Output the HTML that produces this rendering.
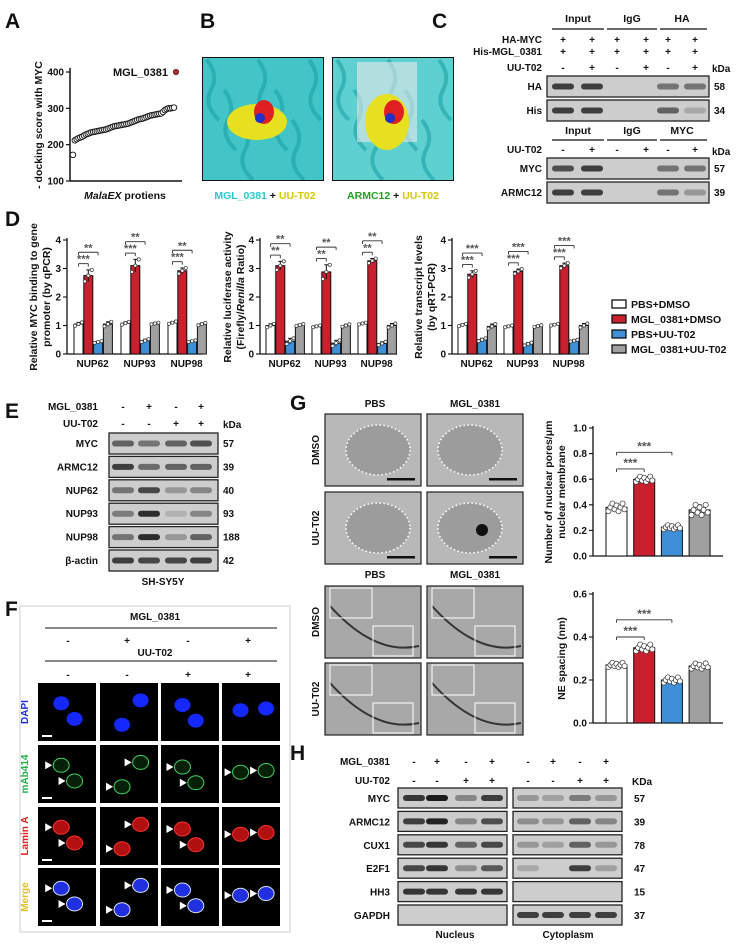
<!DOCTYPE html>
<html><head><meta charset="utf-8"><style>
html,body{margin:0;padding:0;background:#fff;}
svg{display:block;font-family:"Liberation Sans",Arial,sans-serif;}
</style></head><body>
<svg id="fig" width="738" height="946" viewBox="0 0 738 946" xmlns="http://www.w3.org/2000/svg">
<defs><clipPath id="clipB1"><rect x="202" y="57" width="122" height="124"/></clipPath><clipPath id="clipB2"><rect x="332" y="57" width="122" height="124"/></clipPath></defs>
</svg>
<script>
// ---------- DATA ----------
const dockScores=[172,212,215,218,220,222,225,228,230,232,234,235,236,237,238,239,240,241,242,244,246,248,250,251,252,253,254,255,256,257,258,260,262,264,266,268,270,271,272,274,276,278,280,281,282,283,284,285,286,290,295,298,300,300,301,302];
const dockTop=400;
const dockTicks=[100,200,300,400];
const genes=["NUP62","NUP93","NUP98"];
const groupNames=["PBS+DMSO","MGL_0381+DMSO","PBS+UU-T02","MGL_0381+UU-T02"];
const chipVals=[[1.05,2.75,0.42,1.05],[1.08,3.1,0.47,1.07],[1.1,2.92,0.45,1.05]];
const chipErr=[[0.06,0.2,0.03,0.08],[0.05,0.22,0.05,0.03],[0.04,0.1,0.03,0.04]];
const chipSig=[["***","**"],["***","**"],["***","**"]];
const lucVals=[[1.0,3.1,0.45,1.02],[0.97,2.88,0.38,1.0],[1.07,3.27,0.37,1.0]];
const lucErr=[[0.06,0.15,0.1,0.03],[0.03,0.25,0.1,0.04],[0.03,0.08,0.06,0.07]];
const lucSig=[["**","**"],["**","**"],["**","**"]];
const qVals=[[1.02,2.8,0.5,0.97],[0.97,2.9,0.35,0.98],[1.03,3.1,0.47,1.0]];
const qErr=[[0.04,0.12,0.05,0.08],[0.03,0.08,0.05,0.03],[0.03,0.09,0.03,0.07]];
const qSig=[["***","***"],["***","***"],["***","***"]];
const dTicks=[0,1,2,3,4];
const poreVals=[0.38,0.6,0.225,0.36];
const poreErr=[0.03,0.02,0.015,0.04];
const poreTicks=[0,0.2,0.4,0.6,0.8,1.0];
const neVals=[0.27,0.35,0.2,0.265];
const neErr=[0.01,0.015,0.012,0.012];
const neTicks=[0,0.2,0.4,0.6];
const cRows1=["HA","His"],cBands1=[[0.8,0.8,0,0,0.5,0.5],[0.8,0.8,0,0,0.6,0.2]],cKda1=["58","34"];
const cRows2=["MYC","ARMC12"],cBands2=[[0.7,0.8,0,0,0.5,0.5],[0.8,0.8,0,0,0.5,0.3]],cKda2=["57","39"];
const eRows=["MYC","ARMC12","NUP62","NUP93","NUP98","β-actin"];
const eBands=[[0.6,0.5,0.6,0.7],[0.8,0.55,0.6,0.6],[0.5,0.75,0.3,0.4],[0.45,0.9,0.15,0.4],[0.5,0.9,0.3,0.6],[0.8,0.75,0.75,0.8]];
const eKda=["57","39","40","93","188","42"];
const hRows=["MYC","ARMC12","CUX1","E2F1","HH3","GAPDH"];
const hNuc=[[0.85,1,0.4,0.8],[0.8,0.95,0.4,0.7],[0.75,0.85,0.6,0.75],[0.75,0.85,0.35,0.65],[0.85,0.85,0.85,0.85],[0,0,0,0]];
const hCyt=[[0.3,0.25,0.45,0.3],[0.35,0.3,0.6,0.4],[0.3,0.25,0.6,0.3],[0.2,0,0.8,0.25],[0,0,0,0],[0.8,0.8,0.8,0.8]];
const hKda=["57","39","78","47","15","37"];
const colors=["#ffffff","#c8202e","#3e8fd6","#a0a0a0"];

// ---------- HELPERS ----------
const NS="http://www.w3.org/2000/svg";
const svg=document.getElementById('fig');
function el(tag,attrs,parent){const e=document.createElementNS(NS,tag);for(const k in attrs)e.setAttribute(k,attrs[k]);(parent||svg).appendChild(e);return e;}
function nm(e,name){


return e;}
function txt(x,y,s,o,name,parent){o=o||{};const a={x:x,y:y,'font-size':o.size||10,'font-weight':o.w||'bold','text-anchor':o.a||'start',fill:o.fill||'#111'};
if(o.rot!==undefined)a.transform='rotate('+o.rot+' '+x+' '+y+')';if(o.style)a['font-style']=o.style;
const t=el('text',a,parent);t.textContent=s;nm(t,name||'label');return t;}
function line(x1,y1,x2,y2,w,c,name,parent){const l=el('line',{x1:x1,y1:y1,x2:x2,y2:y2,stroke:c||'#111','stroke-width':w||1},parent);nm(l,name||'line');return l;}
function g(name){const e=el('g',{});nm(e,name);return e;}

// ---------- PANEL LETTERS ----------
[["A",5,28],["B",200,28],["C",432,28],["D",5,226],["E",5,418],["F",5,616],["G",290,410],["H",290,760]].forEach(p=>txt(p[1],p[2],p[0],{size:21},'panel-letter-'+p[0].toLowerCase()));

// ---------- PANEL A ----------
(function(){const G=g('docking-score-chart');
const x0=70,x1=182,yA=v=>181-(v-100)*(109/300);
line(x0,68,x0,181,1.5,'#111','y-axis',G);line(x0,181,x1,181,1.5,'#111','x-axis',G);
dockTicks.forEach(t=>{line(x0-4,yA(t),x0,yA(t),1.2,'#111','y-tick',G);txt(x0-6,yA(t)+3.5,String(t),{size:10,a:'end'},'y-tick-label',G);});
const xs=i=>73+i*(101/(dockScores.length-1));
dockScores.forEach((v,i)=>{const c=el('circle',{cx:xs(i),cy:yA(v),r:2.8,fill:'#fff',stroke:'#111','stroke-width':0.9},G);nm(c,'protein-point');});
const r=el('circle',{cx:176,cy:yA(dockTop),r:2.8,fill:'#b52a2a',stroke:'#333','stroke-width':0.6},G);nm(r,'mgl-0381-point');
txt(168,76,'MGL_0381',{size:11,a:'end'},'mgl-0381-label',G);
txt(42,125,'- docking score with MYC',{size:10.5,a:'middle',rot:-90},'y-axis-title',G);
const t=txt(125,199,'',{size:10.5,a:'middle'},'x-axis-title',G);
const s1=el('tspan',{'font-style':'italic'},t);s1.textContent='MalaEX';const s2=el('tspan',{},t);s2.textContent=' protiens';
})();

// ---------- PANEL B ----------
(function(){
[[202,'mgl-0381-structure','clipB1'],[332,'armc12-structure','clipB2']].forEach((b,k)=>{
const G=el('g',{'clip-path':'url(#'+b[2]+')'});nm(G,b[1]);
const x=b[0];const r=el('rect',{x:x,y:57,width:122,height:124,fill:k?'#5fd0d0':'#43c4c6'},G);nm(r,b[1]+'-bg');
for(let i=0;i<7;i++){const p=el('path',{d:'M'+(x+5+i*17)+' '+(60+(i%3)*30)+' q 12 15 4 30 t 8 30',stroke:'#1aa4a8','stroke-width':4,fill:'none',opacity:0.6},G);nm(p,'helix');}
if(k){const w=el('rect',{x:x+25,y:62,width:60,height:80,fill:'#e8e8e8',opacity:0.6},G);nm(w,'surface');}
const y1=el('ellipse',{cx:x+55,cy:122,rx:k?22:30,ry:k?28:18,fill:'#e6e020'},G);nm(y1,'ligand-yellow');
const r1=el('ellipse',{cx:x+62,cy:112,rx:10,ry:12,fill:'#e02020'},G);nm(r1,'ligand-red');
const b1=el('ellipse',{cx:x+58,cy:118,rx:5,ry:5,fill:'#2030c8'},G);nm(b1,'ligand-blue');
const f=el('rect',{x:x,y:57,width:122,height:124,fill:'none',stroke:'#111','stroke-width':2},G);nm(f,b[1]+'-frame');});
const G=g('docking-captions');
let t=txt(265,199,'',{size:10.5,a:'middle'},'mgl-0381-ut02-caption',G);
let a=el('tspan',{fill:'#2cc8d0'},t);a.textContent='MGL_0381';a=el('tspan',{fill:'#111'},t);a.textContent=' + ';a=el('tspan',{fill:'#d8c800'},t);a.textContent='UU-T02';
t=txt(393,199,'',{size:10.5,a:'middle'},'armc12-ut02-caption',G);
a=el('tspan',{fill:'#22a022'},t);a.textContent='ARMC12';a=el('tspan',{fill:'#111'},t);a.textContent=' + ';a=el('tspan',{fill:'#d8c800'},t);a.textContent='UU-T02';
})();

// ---------- BLOT HELPER ----------
function blotAt(G,xs,y,w,h,bands,name){
const r=el('rect',{x:xs.x,y:y,width:w,height:h,fill:'#cdcdcd',stroke:'#222','stroke-width':1.3},G);nm(r,name+'-blot');
bands.forEach((v,i)=>{if(v<=0)return;const b=el('rect',{x:xs.lanes[i]-11,y:y+h/2-3,width:22,height:6,rx:3,fill:'#111',opacity:Math.min(1,v*0.95)},G);nm(b,name+'-band');});}

// ---------- PANEL C ----------
(function(){const G=g('coip-blots');const lanes=[563,592,617,646,668,695];
[['Input',578,552,604],['IgG',632,607,657],['HA',682,660,707]].forEach(h=>{txt(h[1],22,h[0],{size:10.5,a:'middle'},'header-'+h[0].toLowerCase(),G);line(h[2],29,h[3],29,1.2,'#111','header-line',G);});
const sg=[['HA-MYC',40,['+','+','+','+','+','+']],['His-MGL_0381',52,['+','+','+','+','+','+']],['UU-T02',68,['-','+','-','+','-','+']]];
sg.forEach(s=>{txt(542,s[1]+3,s[0],{size:10,a:'end'},'row-label',G);s[2].forEach((c,i)=>txt(lanes[i],s[1]+3,c,{size:10,a:'middle'},'sign',G));});
txt(712,72,'kDa',{size:10},'kda-label',G);
cRows1.forEach((r,i)=>{const y=76+i*24;txt(542,y+14,r,{size:10,a:'end'},'row-label',G);blotAt(G,{x:547,lanes:lanes},y,162,21,cBands1[i],'c-'+r.toLowerCase());txt(714,y+14,cKda1[i],{size:10},'kda-value',G);});
[['Input',578,552,604],['IgG',632,607,657],['MYC',682,660,707]].forEach(h=>{txt(h[1],134,h[0],{size:10.5,a:'middle'},'header-'+h[0].toLowerCase(),G);line(h[2],140,h[3],140,1.2,'#111','header-line',G);});
txt(542,153,'UU-T02',{size:10,a:'end'},'row-label',G);['-','+','-','+','-','+'].forEach((c,i)=>txt(lanes[i],153,c,{size:10,a:'middle'},'sign',G));
txt(712,155,'kDa',{size:10},'kda-label',G);
cRows2.forEach((r,i)=>{const y=158+i*24;txt(542,y+14,r,{size:10,a:'end'},'row-label',G);blotAt(G,{x:547,lanes:lanes},y,162,21,cBands2[i],'c2-'+r.toLowerCase());txt(714,y+14,cKda2[i],{size:10},'kda-value',G);});
})();

// ---------- BAR CHART ----------
function barChart(o){const G=g(o.name);
const yS=v=>o.y0-(v/o.ymax)*(o.y0-o.yTop);
line(o.x0,o.yTop-2,o.x0,o.y0,1.3,'#111','y-axis',G);line(o.x0,o.y0,o.x1,o.y0,1.3,'#111','x-axis',G);
o.ticks.forEach(t=>{line(o.x0-4,yS(t),o.x0,yS(t),1.1,'#111','y-tick',G);txt(o.x0-6,yS(t)+3.5,o.tickFmt?o.tickFmt(t):String(t),{size:o.fs||10,a:'end'},'y-tick-label',G);});
o.groups.forEach((vals,gi)=>{const gx=o.x0+o.off+gi*o.gstep;
vals.forEach((v,j)=>{const bx=gx+j*o.bstep;const r=el('rect',{x:bx,y:yS(v),width:o.bw,height:o.y0-yS(v),fill:colors[j],stroke:'#111','stroke-width':1},G);nm(r,'bar-'+(o.labels?o.labels[gi].toLowerCase()+'-':'')+'group'+(j+1));
const e=o.errs[gi][j];line(bx+o.bw/2,yS(v-e),bx+o.bw/2,yS(v+e),1,'#111','error-bar',G);line(bx+o.bw/2-2,yS(v+e),bx+o.bw/2+2,yS(v+e),1,'#111','error-cap',G);
const nd=o.ndots||3;for(let d=0;d<nd;d++){const dx=(d-(nd-1)/2)*(o.bw*0.7/Math.max(1,nd-1))*1.1;const dy=((d*7)%5-2)*e*0.5;const c=el('circle',{cx:bx+o.bw/2+dx,cy:yS(v+dy),r:o.dr||1.6,fill:'#fff',stroke:'#333','stroke-width':0.7},G);nm(c,'data-point');}});
if(o.labels)txt(gx+o.bstep*2-1,o.y0+13,o.labels[gi],{size:10,a:'middle'},'x-tick-label',G);
if(o.sig){const top=vals[1]+o.errs[gi][1];const l1=yS(top+0.22),l2=yS(top+0.62);
const xw=gx+o.bw/2,xr=gx+o.bstep+o.bw/2,xb=gx+2*o.bstep+o.bw/2;
line(xw,l1,xr,l1,0.9,'#333','sig-bracket',G);line(xw,l1,xw,l1+3,0.9,'#333','sig-tick',G);line(xr,l1,xr,l1+3,0.9,'#333','sig-tick',G);
txt((xw+xr)/2,l1-1,o.sig[gi][0],{size:11,a:'middle',fill:'#555'},'sig-stars',G);
line(xw,l2,xb,l2,0.9,'#333','sig-bracket',G);line(xw,l2,xw,l2+3,0.9,'#333','sig-tick',G);line(xb,l2,xb,l2+3,0.9,'#333','sig-tick',G);
txt((xw+xb)/2,l2-1,o.sig[gi][1],{size:11,a:'middle',fill:'#555'},'sig-stars',G);}});
if(o.gsig){o.gsig.forEach(s=>{const yy=yS(s.v);const xa=o.x0+o.off+o.bw/2,xb2=o.x0+o.off+s.to*o.bstep+o.bw/2;line(xa,yy,xb2,yy,0.9,'#333','sig-bracket',G);line(xa,yy,xa,yy+3,0.9,'#333','sig-tick',G);line(xb2,yy,xb2,yy+3,0.9,'#333','sig-tick',G);txt((xa+xb2)/2,yy-2,'***',{size:12,a:'middle',fill:'#555'},'sig-stars',G);});}
o.title.forEach((t,i)=>{const tt=txt(o.tx+i*13,(o.y0+o.yTop)/2,'',{size:10.5,a:'middle',rot:-90},'y-axis-title',G);t.forEach(p=>{const s=el('tspan',p[1]?{'font-style':'italic'}:{},tt);s.textContent=p[0];});});
return G;}

barChart({name:'chip-qpcr-chart',x0:67,x1:203,y0:354,yTop:240,ymax:4,ticks:dTicks,groups:chipVals,errs:chipErr,sig:chipSig,labels:genes,off:7,gstep:47,bstep:9.8,bw:9,tx:37,title:[[['Relative MYC binding to gene']],[['promoter (by qPCR)']]]});
barChart({name:'luciferase-chart',x0:260,x1:397,y0:354,yTop:240,ymax:4,ticks:dTicks,groups:lucVals,errs:lucErr,sig:lucSig,labels:genes,off:6,gstep:46,bstep:9.8,bw:9,tx:231,title:[[['Relative luciferase activity']],[['(Firefly/'],['Renilla',1],[' Ratio)']]]});
barChart({name:'qrtpcr-chart',x0:452,x1:580,y0:354,yTop:240,ymax:4,ticks:dTicks,groups:qVals,errs:qErr,sig:qSig,labels:genes,off:6,gstep:46,bstep:9.8,bw:9,tx:422,title:[[['Relative transcript levels']],[['(by qRT-PCR)']]]});
(function(){const G=g('legend');groupNames.forEach((n,i)=>{const y=304+i*15;const r=el('rect',{x:612,y:y-4,width:14,height:8,fill:colors[i],stroke:'#111','stroke-width':1.3},G);nm(r,'legend-swatch');txt(631,y+4,n,{size:10.5},'legend-entry',G);});})();

barChart({name:'nuclear-pores-chart',x0:593,x1:723,y0:556,yTop:428,ymax:1.0,ticks:poreTicks,tickFmt:t=>t.toFixed(1),groups:[poreVals],errs:[poreErr],off:13,gstep:0,bstep:27.7,bw:21,ndots:9,dr:2.6,gsig:[{v:0.81,to:2},{v:0.68,to:1}],tx:552,title:[[['Number of nuclear pores/μm']],[['nuclear membrane']]]});
barChart({name:'ne-spacing-chart',x0:593,x1:723,y0:723,yTop:594,ymax:0.6,ticks:neTicks,tickFmt:t=>t.toFixed(1),groups:[neVals],errs:[neErr],off:13,gstep:0,bstep:27.7,bw:21,ndots:9,dr:2.6,gsig:[{v:0.48,to:2},{v:0.40,to:1}],tx:565,title:[[['NE spacing (nm)']]]});

// ---------- PANEL E ----------
(function(){const G=g('western-blot-e');const lanes=[123,149,176,201];
[['MGL_0381',407,['-','+','-','+']],['UU-T02',424,['-','-','+','+']]].forEach(s=>{txt(98,s[1]+3,s[0],{size:10,a:'end'},'row-label',G);s[2].forEach((c,i)=>txt(lanes[i],s[1]+3,c,{size:10,a:'middle'},'sign',G));});
txt(223,428,'kDa',{size:10},'kda-label',G);
eRows.forEach((r,i)=>{const y=433+i*23.4;txt(98,y+14,r,{size:10,a:'end'},'row-label',G);blotAt(G,{x:109,lanes:lanes},y,109,21,eBands[i],'e-'+r);txt(223,y+14,eKda[i],{size:10},'kda-value',G);});
txt(163,585,'SH-SY5Y',{size:10,a:'middle'},'cell-line-label',G);})();

// ---------- PANEL F ----------
(function(){const G=g('immunofluorescence');
const fr=el('rect',{x:20,y:606,width:270,height:326,fill:'none',stroke:'#ccc','stroke-width':1},G);nm(fr,'panel-frame');
const cx=[68,127,188,248];
txt(155,620,'MGL_0381',{size:10,a:'middle'},'mgl-0381-header',G);line(45,628,277,628,1,'#111','header-line',G);
['-','+','-','+'].forEach((c,i)=>txt(cx[i],644,c,{size:10,a:'middle'},'sign',G));
txt(155,656,'UU-T02',{size:10,a:'middle'},'ut02-header',G);line(45,661,277,661,1,'#111','header-line',G);
['-','-','+','+'].forEach((c,i)=>txt(cx[i],678,c,{size:10,a:'middle'},'sign',G));
const cols=[38,100,161,222],rows=[683,745,807,868];
const nuc=[[[0.4,0.35],[0.63,0.62]],[[0.7,0.3],[0.38,0.72]],[[0.37,0.38],[0.6,0.65]],[[0.32,0.47],[0.76,0.44]]];
const rowNames=[['DAPI','#2030e0'],['mAb414','#22b04a'],['Lamin A','#e02020'],['Merge','#e0c020']];
rows.forEach((ry,ri)=>{txt(28,ry+29,rowNames[ri][0],{size:10,a:'middle',rot:-90,fill:rowNames[ri][1]},'row-label-'+rowNames[ri][0].toLowerCase().replace(' ','-'),G);
cols.forEach((cxp,ci)=>{const b=el('rect',{x:cxp,y:ry,width:58,height:58,fill:'#000'},G);nm(b,'micrograph');
nuc[ci].forEach(n=>{const ex=cxp+n[0]*58,ey=ry+n[1]*58;let a;
if(ri==0)a={fill:'#1428ff'};else if(ri==1)a={fill:'#062008',stroke:'#3ed060','stroke-width':1};else if(ri==2)a={fill:'#b01010',stroke:'#ff3030','stroke-width':1};else a={fill:'#2030e0',stroke:'#d8e0f0','stroke-width':1};
a.cx=ex;a.cy=ey;a.rx=8;a.ry=7;const e=el('ellipse',a,G);nm(e,'nucleus');
if(ri>0){const t=el('path',{d:'M'+(ex-16)+' '+(ey-4)+' l7 4 l-7 4 z',fill:'#fff'},G);nm(t,'arrowhead');}});
if(ci==0){const s=el('rect',{x:cxp+4,y:ry+52,width:10,height:2,fill:'#fff'},G);nm(s,'scale-bar');}});});})();

// ---------- PANEL G images ----------
(function(){const G=g('em-images');
txt(375,407,'PBS',{size:10,a:'middle'},'col-header',G);txt(475,407,'MGL_0381',{size:10,a:'middle'},'col-header',G);
txt(375,578,'PBS',{size:10,a:'middle'},'col-header',G);txt(475,578,'MGL_0381',{size:10,a:'middle'},'col-header',G);
[['DMSO',450],['UU-T02',528],['DMSO',622],['UU-T02',699]].forEach(r=>txt(319,r[1],r[0],{size:10,a:'middle',rot:-90},'row-label',G));
const xs=[325,427],ys=[414,492,586,663];
ys.forEach((y,ri)=>xs.forEach((x,ci)=>{const b=el('rect',{x:x,y:y,width:96,height:72,fill:ri<2?'#b8b8b8':'#a8a8a8',stroke:'#222','stroke-width':1.2},G);nm(b,'em-micrograph');
if(ri<2){const e=el('ellipse',{cx:x+48+(ci?-5:5),cy:y+36,rx:32,ry:25,fill:'#9c9c9c',stroke:'#fff','stroke-width':1.6,'stroke-dasharray':'1.5 2.5'},G);nm(e,'nucleus-outline');
if(ri==1&&ci==1){const d=el('circle',{cx:x+55,cy:y+38,r:6,fill:'#111'},G);nm(d,'nucleolus');}
const sb=el('rect',{x:x+62,y:y+64,width:28,height:2.5,fill:'#111'},G);nm(sb,'scale-bar');}
else{const p=el('path',{d:'M'+(x+5)+' '+(y+20)+' Q'+(x+50)+' '+(y+70)+' '+(x+94)+' '+(y+60),stroke:'#333','stroke-width':2,fill:'none'},G);nm(p,'nuclear-envelope');
const w1=el('rect',{x:x+5,y:y+2,width:42,height:30,fill:'none',stroke:'#fff','stroke-width':1},G);nm(w1,'inset-box');
const w2=el('rect',{x:x+48,y:y+40,width:40,height:30,fill:'none',stroke:'#fff','stroke-width':1},G);nm(w2,'zoom-box');}}));})();

// ---------- PANEL H ----------
(function(){const G=g('western-blot-h');const nl=[414,437,466,492],cl=[528,553,580,606];
[['MGL_0381',762,['-','+','-','+']],['UU-T02',781,['-','-','+','+']]].forEach(s=>{txt(390,s[1]+3,s[0],{size:10,a:'end'},'row-label',G);s[2].forEach((c,i)=>{txt(nl[i],s[1]+3,c,{size:10,a:'middle'},'sign',G);txt(cl[i],s[1]+3,c,{size:10,a:'middle'},'sign',G);});});
txt(632,785,'KDa',{size:10},'kda-label',G);
hRows.forEach((r,i)=>{const y=788+i*23.4;txt(390,y+14,r,{size:10,a:'end'},'row-label',G);
blotAt(G,{x:398,lanes:nl},y,109,20,hNuc[i],'h-nuc-'+r);blotAt(G,{x:513,lanes:cl},y,109,20,hCyt[i],'h-cyt-'+r);txt(634,y+14,hKda[i],{size:10},'kda-value',G);});
txt(455,938,'Nucleus',{size:10,a:'middle'},'nucleus-label',G);txt(568,938,'Cytoplasm',{size:10,a:'middle'},'cytoplasm-label',G);})();
</script>
</body></html>
